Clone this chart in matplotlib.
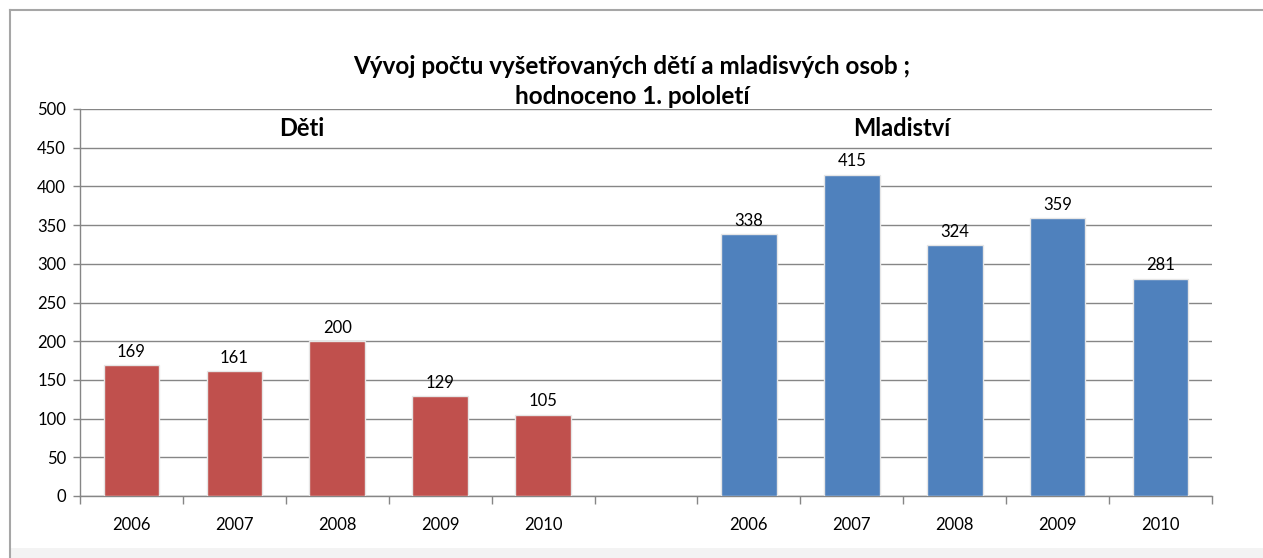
import matplotlib
matplotlib.use("Agg")
import matplotlib.pyplot as plt
from matplotlib.lines import Line2D
from matplotlib.patches import Rectangle
import numpy as np

plt.rcParams['font.family'] = ['Lato', 'DejaVu Sans']

years = ["2006", "2007", "2008", "2009", "2010"]
deti = [169, 161, 200, 129, 105]
mladistvi = [338, 415, 324, 359, 281]
group_names = ["Děti", "Mladiství"]
title_lines = ["Vývoj počtu vyšetřovaných dětí a mladisvých osob ;", "hodnoceno 1. pololetí"]

W, H = 1263, 558
fig = plt.figure(figsize=(W / 100, H / 100), dpi=100)
fig.patch.set_facecolor('white')

# frame of the chart object
fig.add_artist(Rectangle((10 / W, 0), 1 - 10 / W, 10 / H, transform=fig.transFigure,
                         facecolor='#f3f3f3', edgecolor='none'))
fig.add_artist(Line2D([9.5 / W, 9.5 / W], [0, 1 - 9.5 / H], transform=fig.transFigure,
                      color='#a6a6a6', lw=1.5))
fig.add_artist(Line2D([9.5 / W, 1], [1 - 9.5 / H, 1 - 9.5 / H], transform=fig.transFigure,
                      color='#a6a6a6', lw=1.5))

ax = fig.add_axes([80 / W, 62 / H, (1212 - 80) / W, (496 - 109) / H])

labels = years + [""] + years
x_d = np.arange(0, 5)
x_m = np.arange(6, 11)
bw = 0.54
bars_d = ax.bar(x_d, deti, width=bw, color='#C0504D', edgecolor='#e6e6e6', linewidth=1.0, zorder=3)
bars_m = ax.bar(x_m, mladistvi, width=bw, color='#4F81BD', edgecolor='#e6e6e6', linewidth=1.0, zorder=3)

for bars, vals in ((bars_d, deti), (bars_m, mladistvi)):
    for b, v in zip(bars, vals):
        ax.annotate(str(v), (b.get_x() + b.get_width() / 2, v), xytext=(0, 4),
                    textcoords='offset points', ha='center', va='bottom', fontsize=12, color='#000000')

ax.set_xlim(-0.5, 10.5)
ax.set_ylim(0, 500)
ax.set_yticks(np.arange(0, 501, 50))
ax.set_xticks(np.arange(11))
ax.set_xticklabels(labels)
ax.set_xticks(np.arange(-0.5, 11, 1), minor=True)
ax.tick_params(axis='x', which='major', length=0, pad=15, labelsize=12)
ax.tick_params(axis='x', which='minor', length=6, width=1, color='#868686', direction='out')
ax.tick_params(axis='y', which='major', length=5, width=1, color='#868686', labelsize=12, pad=5)
ax.yaxis.grid(True, color='#868686', lw=1, zorder=0)
ax.set_axisbelow(True)
for s in ('top', 'right'):
    ax.spines[s].set_visible(False)
for s in ('left', 'bottom'):
    ax.spines[s].set_color('#868686')
    ax.spines[s].set_linewidth(1)

ax.text(1.65, 475, group_names[0], ha='center', va='center', fontsize=17, fontweight='bold')
ax.text(7.48, 475, group_names[1], ha='center', va='center', fontsize=17, fontweight='bold')

fig.text(632 / W, 1 - 67 / H, title_lines[0], ha='center', va='center', fontsize=17.5, fontweight='bold')
fig.text(632 / W, 1 - 97 / H, title_lines[1], ha='center', va='center', fontsize=17.5, fontweight='bold')

fig.savefig('out.png', dpi=100, facecolor='white')
